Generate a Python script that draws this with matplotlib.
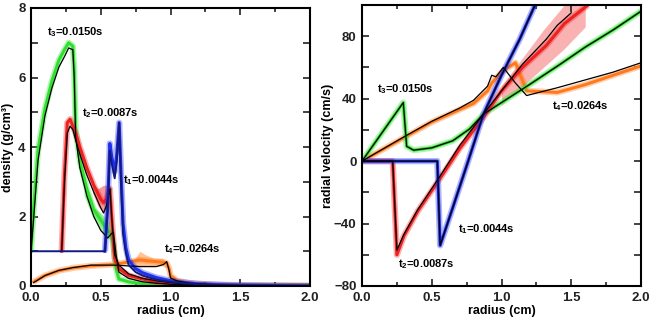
import numpy as np
import matplotlib
matplotlib.use("Agg")
import matplotlib.pyplot as plt
from matplotlib.ticker import MultipleLocator, FormatStrFormatter

plt.rcParams['font.family'] = ['Liberation Sans', 'DejaVu Sans']
plt.rcParams['font.weight'] = 'bold'
plt.rcParams['mathtext.fontset'] = 'custom'
plt.rcParams['mathtext.rm'] = 'Liberation Sans:bold'
plt.rcParams['mathtext.it'] = 'Liberation Sans:bold'
plt.rcParams['mathtext.bf'] = 'Liberation Sans:bold'

GREEN = "#2fe02f"
RED = "#ee2020"
BLUE = "#2030ee"
ORANGE = "#ff7a1a"
NAVY = "#101a80"

# ---- density panel (radius cm, density g/cm3) ----
rho_t1_x = [0, 0.53, 0.55, 0.565, 0.58, 0.60, 0.615, 0.632, 0.645, 0.66, 0.68, 0.70, 0.75, 0.80, 0.90, 1.00, 1.10, 1.20, 1.40, 2.00]
rho_t1_y = [1.0, 1.0, 2.2, 3.9, 3.5, 3.1, 3.6, 4.7, 3.0, 1.5, 0.95, 0.6, 0.4, 0.3, 0.18, 0.12, 0.08, 0.05, 0.02, 0.0]
rho_t1_dx = [0.53, 0.55, 0.565, 0.58, 0.60, 0.615, 0.632, 0.645, 0.66, 0.68, 0.70, 0.75, 0.80, 0.90, 1.00, 1.10, 1.20, 1.40, 2.00]
rho_t1_dy = [1.0, 2.4, 4.1, 3.7, 3.3, 3.8, 4.7, 3.3, 1.8, 1.1, 0.75, 0.5, 0.38, 0.24, 0.15, 0.1, 0.06, 0.03, 0.0]

rho_t2_x = [0.22, 0.24, 0.26, 0.28, 0.30, 0.32, 0.35, 0.40, 0.45, 0.50, 0.52, 0.54, 0.555, 0.566, 0.58, 0.60, 0.63, 0.70, 0.80, 0.90, 1.00, 1.10, 1.20, 1.50, 2.00]
rho_t2_y = [1.0, 3.0, 4.4, 4.6, 4.5, 4.2, 3.8, 3.2, 2.7, 2.25, 2.1, 2.3, 2.6, 2.8, 1.9, 0.9, 0.6, 0.35, 0.22, 0.15, 0.1, 0.06, 0.03, 0.0, 0.0]
rho_t2_dy = [1.0, 3.2, 4.7, 4.8, 4.6, 4.4, 4.0, 3.4, 2.9, 2.5, 2.4, 2.5, 2.7, 2.8, 1.9, 0.8, 0.5, 0.3, 0.2, 0.12, 0.08, 0.05, 0.02, 0.0, 0.0]

rho_t3_x = [0, 0.02, 0.05, 0.10, 0.15, 0.20, 0.24, 0.27, 0.30, 0.31, 0.32, 0.35, 0.40, 0.45, 0.50, 0.55, 0.575, 0.59, 0.61, 0.63, 0.70, 0.80, 0.90, 1.00, 1.10, 1.20, 1.50, 2.00]
rho_t3_y = [1.0, 2.0, 3.6, 4.9, 5.7, 6.3, 6.6, 6.85, 6.8, 6.0, 4.3, 3.4, 2.6, 2.0, 1.6, 1.38, 1.5, 1.55, 0.9, 0.4, 0.22, 0.12, 0.08, 0.05, 0.03, 0.01, 0.0, 0.0]
rho_t3_dy = [1.0, 2.3, 3.9, 5.1, 5.9, 6.5, 6.8, 7.0, 6.9, 6.2, 4.5, 3.6, 2.8, 2.2, 1.9, 1.6, 1.5, 1.2, 0.5, 0.2, 0.12, 0.06, 0.04, 0.02, 0.01, 0.0, 0.0, 0.0]

rho_t4_x = [0.02, 0.10, 0.20, 0.30, 0.43, 0.60, 0.78, 0.90, 0.95, 0.973, 0.99, 1.00, 1.05, 1.14, 1.30, 1.50, 2.00]
rho_t4_y = [0.1, 0.3, 0.45, 0.53, 0.6, 0.6, 0.56, 0.56, 0.62, 0.7, 0.45, 0.23, 0.14, 0.08, 0.04, 0.01, 0.0]
rho_t4_dy = [0.12, 0.3, 0.44, 0.52, 0.58, 0.62, 0.75, 0.7, 0.68, 0.66, 0.5, 0.3, 0.15, 0.08, 0.04, 0.01, 0.0]

# scatter clouds (lower / upper edges)
cloud_t4_x = [0.74, 0.78, 0.82, 0.88, 0.94, 0.98]
cloud_t4_lo = [0.55, 0.55, 0.55, 0.55, 0.58, 0.5]
cloud_t4_hi = [0.75, 1.0, 0.9, 0.8, 0.8, 0.7]
cloud_t2_x = [0.44, 0.48, 0.52, 0.55]
cloud_t2_lo = [2.7, 2.3, 2.1, 2.4]
cloud_t2_hi = [2.9, 2.8, 2.9, 2.9]
cloud_t3_x = [0.38, 0.44, 0.50, 0.55, 0.58]
cloud_t3_lo = [2.6, 2.0, 1.6, 1.4, 1.3]
cloud_t3_hi = [2.8, 2.3, 2.1, 1.9, 1.7]

# ---- velocity panel (radius cm, velocity cm/s) ----
v_t1_x = [0, 0.54, 0.56, 0.65, 0.75, 0.87, 1.00, 1.13, 1.25]
v_t1_y = [0, 0, -54, -30, -3, 30, 55, 78, 102]

v_t2_x = [0, 0.22, 0.25, 0.30, 0.40, 0.56, 0.70, 0.87, 1.00, 1.15, 1.32, 1.40, 1.50]
v_t2_y = [0, 0, -57, -47, -31, -9.5, 10, 30, 45, 62, 78, 87, 95]
v_t2_dx = [0, 0.22, 0.25, 0.30, 0.40, 0.56, 0.70, 0.87, 1.00, 1.15, 1.32, 1.45, 1.62]
v_t2_dy = [0, 0, -60, -48, -32, -11, 8, 28, 45, 60, 74, 88, 100]
cloud_v2_x = [1.0, 1.15, 1.3, 1.45, 1.6]
cloud_v2_lo = [36, 48, 60, 72, 86]
cloud_v2_hi = [48, 66, 84, 100, 100]

v_t3_x = [0, 0.296, 0.32, 0.37, 0.50, 0.65, 0.77, 0.87, 1.00, 1.20, 1.42, 1.60, 1.80, 2.00]
v_t3_y = [0, 37.5, 9.5, 7, 8.5, 13, 20.5, 30, 37.5, 49, 62, 73, 84, 96]

v_t4_x = [0, 0.30, 0.50, 0.70, 0.80, 0.90, 0.93, 0.96, 1.013, 1.10, 1.18, 1.40, 1.60, 1.80, 2.00]
v_t4_y = [0, 15.5, 25.5, 34, 39, 48, 55, 54, 60, 50, 42, 47, 52, 57, 63]
v_t4_dy = [0, 15, 25, 33, 37, 45, 50, 53, 58, 63, 45, 44, 49, 55, 61]

fig = plt.figure(figsize=(6.51, 3.17), dpi=100)
ax1 = fig.add_axes([31/651, 31/317, 279/651, 278/317])
ax2 = fig.add_axes([362/651, 31/317, 279/651, 281/317])


def band(ax, x, y, c):
    ax.plot(x, y, color=c, lw=4.5, alpha=0.35, solid_capstyle='butt')
    ax.plot(x, y, color=c, lw=2.2)


# density
ax1.fill_between(cloud_t4_x, cloud_t4_lo, cloud_t4_hi, color=ORANGE, alpha=0.45, lw=0)
ax1.fill_between(cloud_t3_x, cloud_t3_lo, cloud_t3_hi, color=GREEN, alpha=0.45, lw=0)
ax1.fill_between(cloud_t2_x, cloud_t2_lo, cloud_t2_hi, color=RED, alpha=0.45, lw=0)
band(ax1, rho_t4_x, rho_t4_dy, ORANGE)
band(ax1, rho_t3_x, rho_t3_dy, GREEN)
band(ax1, rho_t2_x, rho_t2_dy, RED)
band(ax1, rho_t1_dx, rho_t1_dy, BLUE)
ax1.plot(rho_t4_x, rho_t4_y, color='black', lw=0.9)
ax1.plot(rho_t3_x, rho_t3_y, color='black', lw=0.9)
ax1.plot(rho_t2_x, rho_t2_y, color='black', lw=0.9)
ax1.plot(rho_t1_x, rho_t1_y, color=NAVY, lw=1.4)

# velocity
ax2.fill_between(cloud_v2_x, cloud_v2_lo, cloud_v2_hi, color=RED, alpha=0.35, lw=0)
band(ax2, v_t4_x, v_t4_dy, ORANGE)
band(ax2, v_t3_x, v_t3_y, GREEN)
band(ax2, v_t2_dx, v_t2_dy, RED)
band(ax2, v_t1_x, v_t1_y, BLUE)
for xs, ys in [(v_t4_x, v_t4_y), (v_t3_x, v_t3_y), (v_t2_x, v_t2_y), (v_t1_x, v_t1_y)]:
    ax2.plot(xs, ys, color='black', lw=0.9)

ax1.set_xlim(0, 2)
ax1.set_ylim(0, 8)
ax2.set_xlim(0, 2)
ax2.set_ylim(-80, 100)

ax1.xaxis.set_major_locator(MultipleLocator(0.5))
ax1.xaxis.set_minor_locator(MultipleLocator(0.25))
ax1.yaxis.set_major_locator(MultipleLocator(2))
ax1.yaxis.set_minor_locator(MultipleLocator(1))
ax2.xaxis.set_major_locator(MultipleLocator(0.5))
ax2.xaxis.set_minor_locator(MultipleLocator(0.25))
ax2.yaxis.set_major_locator(MultipleLocator(40))
ax2.yaxis.set_minor_locator(MultipleLocator(20))

for ax in (ax1, ax2):
    for s in ax.spines.values():
        s.set_linewidth(1.5)
    ax.tick_params(which='both', direction='in', top=True, right=True,
                   width=1.2, labelsize=9.5, pad=4, colors='#222222')
    ax.tick_params(axis='y', which='both', length=5)
    ax.tick_params(axis='x', which='major', length=5)
    ax.tick_params(axis='x', which='minor', length=3)
    ax.xaxis.set_major_formatter(FormatStrFormatter('%.1f'))
    ax.set_xlabel("radius (cm)", fontsize=9, fontweight='bold', labelpad=1)

ax1.set_ylabel("density (g/cm³)", fontsize=9, fontweight='bold', labelpad=3)
ax2.set_ylabel("radial velocity (cm/s)", fontsize=9, fontweight='bold', labelpad=0)

lab = dict(fontsize=8, fontweight='bold', va='center', ha='left')
ax1.text(0.115, 7.3, r"t$_3$=0.0150s", **lab)
ax1.text(0.365, 4.98, r"t$_2$=0.0087s", **lab)
ax1.text(0.66, 3.05, r"t$_1$=0.0044s", **lab)
ax1.text(0.95, 1.06, r"t$_4$=0.0264s", **lab)

ax2.text(0.105, 46, r"t$_3$=0.0150s", **lab)
ax2.text(1.36, 35, r"t$_4$=0.0264s", **lab)
ax2.text(0.69, -43.5, r"t$_1$=0.0044s", **lab)
ax2.text(0.26, -66, r"t$_2$=0.0087s", **lab)

fig.savefig("out.png", dpi=100)
